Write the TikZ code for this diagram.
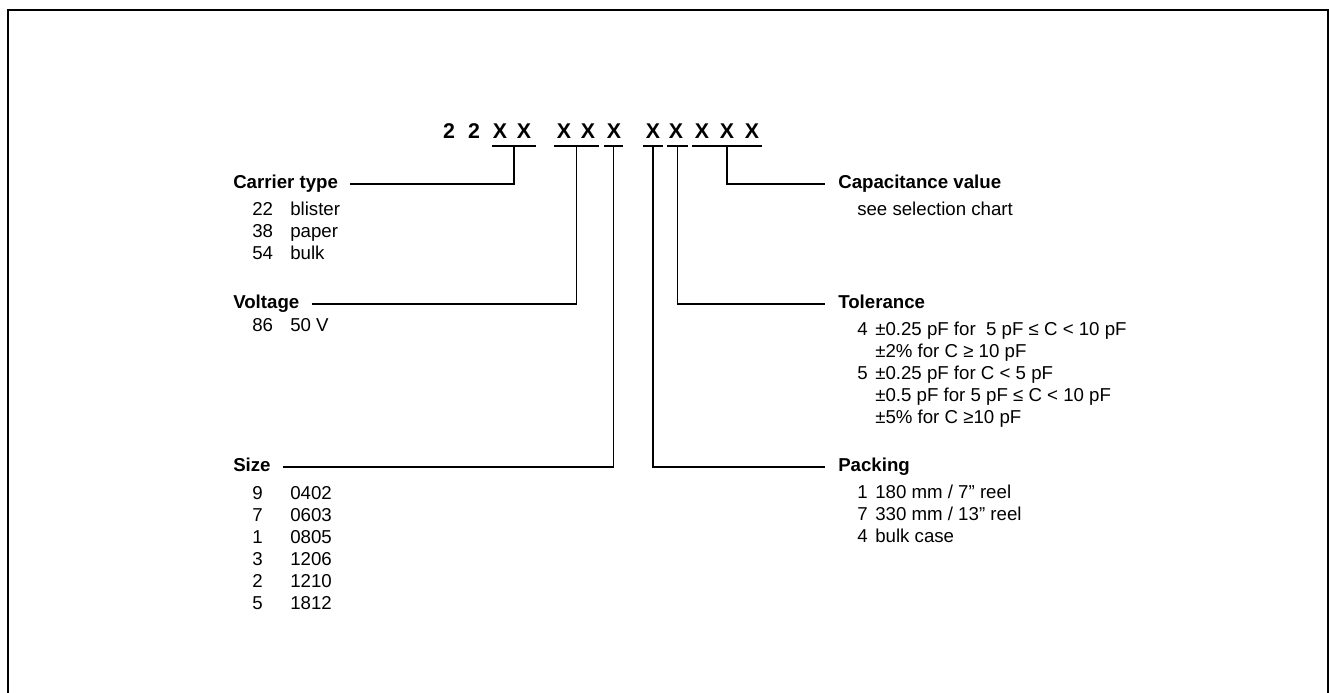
\documentclass[tikz,border=0pt]{standalone}
\usepackage{fontspec}
\setmainfont{Liberation Sans}
\begin{document}
\begin{tikzpicture}[x=0.75pt,y=-0.75pt,
	code/.style={anchor=base,inner sep=0pt,font=\fontsize{16}{19}\selectfont\bfseries},
	head/.style={anchor=west,inner sep=0pt,text height=10pt,text depth=3pt,font=\fontsize{14}{17}\selectfont\bfseries},
	item/.style={anchor=base west,inner sep=0pt,font=\fontsize{14}{17}\selectfont},
	underbar/.style={line width=1.4pt},
	linkleft/.style={line width=1.4pt,shorten <=9pt},
	linkright/.style={line width=1.4pt,shorten >=10pt}]
	\useasboundingbox (0,0) rectangle (1329,693);
	\draw[line width=1.6pt] (8,693) -- (8,10) -- (1328,10) -- (1328,693);
	\foreach \c/\x [count=\i] in {2/449,2/474,X/500,X/524,X/564,X/588,X/614,X/653,X/676,X/702,X/727,X/752}
		\node[code] (ch\i) at (\x,138) {\c};
	\foreach \m/\w [count=\i] in {514/22,576.5/22.5,613.5/9.5,653/10,677.5/10.5,727/35}{
		\coordinate (u\i) at (\m,146);
		\draw[underbar] ([xshift=-\w*0.75pt]u\i) -- ([xshift=\w*0.75pt]u\i);
	}
	\node[head] (carrier) at (233,184) {Carrier type};
	\node[head] (voltage) at (233,304) {Voltage};
	\node[head] (size) at (233,467) {Size};
	\node[head] (capval) at (838,184) {Capacitance value};
	\node[head] (tol) at (838,304) {Tolerance};
	\node[head] (pack) at (838,467) {Packing};
	\draw[linkleft] (carrier.east) -| (u1);
	\draw[linkleft] (voltage.east) -| (u2);
	\draw[linkleft] (size.east) -| (u3);
	\draw[linkright] (u4) |- (pack.west);
	\draw[linkright] (u5) |- (tol.west);
	\draw[linkright] (u6) |- (capval.west);
	\foreach \n/\t [count=\i] in {22/blister,38/paper,54/bulk}{
		\node[item] (carrierN\i) at (252,193+22*\i) {\n};
		\node[item] (carrierT\i) at (290,193+22*\i) {\t};
	}
	\node[item] (voltageN1) at (252,331) {86};
	\node[item] (voltageT1) at (290,331) {50 V};
	\foreach \n/\t [count=\i] in {9/0402,7/0603,1/0805,3/1206,2/1210,5/1812}{
		\node[item] (sizeN\i) at (252,477+22*\i) {\n};
		\node[item] (sizeT\i) at (290,477+22*\i) {\t};
	}
	\node[item] (capvalT1) at (857,215) {see selection chart};
	\node[item] (tolN1) at (857,335) {4};
	\node[item] (tolT1) at (875,335) {±0.25 pF for\ \ 5 pF ≤ C < 10 pF};
	\node[item] (tolT2) at (875,357) {±2\% for C ≥ 10 pF};
	\node[item] (tolN2) at (857,379) {5};
	\node[item] (tolT3) at (875,379) {±0.25 pF for C < 5 pF};
	\node[item] (tolT4) at (875,401) {±0.5 pF for 5 pF ≤ C < 10 pF};
	\node[item] (tolT5) at (875,423) {±5\% for C ≥10 pF};
	\node[item] (packN1) at (857,498) {1};
	\node[item] (packT1) at (875,498) {180 mm / 7” reel};
	\node[item] (packN2) at (857,520) {7};
	\node[item] (packT2) at (875,520) {330 mm / 13” reel};
	\node[item] (packN3) at (857,542) {4};
	\node[item] (packT3) at (875,542) {bulk case};
\end{tikzpicture}
\end{document}
